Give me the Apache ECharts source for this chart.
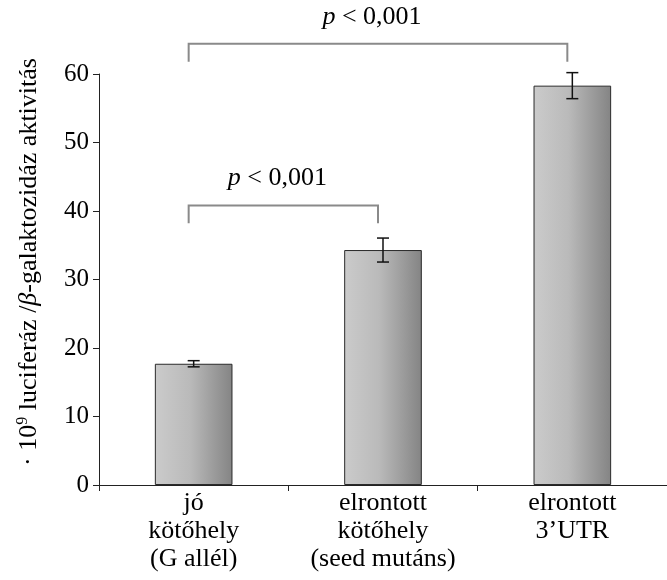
<!DOCTYPE html>
<html>
<head>
<meta charset="utf-8">
<script src="https://cdn.jsdelivr.net/npm/echarts@6/dist/echarts.min.js"></script>
<style>
html,body{margin:0;padding:0;background:#fff;}
#c{width:667px;height:580px;}
</style>
</head>
<body>
<div id="c"></div>
<script>
var categories = ['jó\nkötőhely\n(G allél)', 'elrontott\nkötőhely\n(seed mutáns)', 'elrontott\n3’UTR'];
var means = [17.7, 34.3, 58.3];
var errors = [0.45, 1.75, 1.9];
var yTicks = [0, 10, 20, 30, 40, 50, 60];
var bracketFrom = [0, 0];
var bracketTo = [1, 2];
var bracketTop = [40.8, 64.4];
var bracketLeg = [38.2, 61.8];
var bracketText = ['p < 0,001', 'p < 0,001'];

var FONT = '"Liberation Serif", "Times New Roman", serif';
var chart = echarts.init(document.getElementById('c'), null, {renderer: 'canvas'});

var errData = means.map(function (m, i) { return [i, m, errors[i]]; });
var brData = bracketFrom.map(function (f, i) { return [f, bracketTo[i], bracketTop[i], bracketLeg[i], i]; });

var option = {
  animation: false,
  backgroundColor: '#fff',
  grid: {left: 99, top: 74, width: 576, height: 411, containLabel: false},
  xAxis: {
    type: 'category',
    data: categories,
    axisLine: {lineStyle: {color: '#222', width: 1}},
    axisTick: {show: true, alignWithLabel: false, length: 6, lineStyle: {color: '#222'}},
    axisLabel: {color: '#000', fontFamily: FONT, fontSize: 26, lineHeight: 28, margin: 4, interval: 0}
  },
  yAxis: {
    type: 'value',
    min: 0, max: 60, interval: 10,
    axisLine: {show: true, lineStyle: {color: '#222', width: 1}},
    axisTick: {show: true, length: 6, lineStyle: {color: '#222'}},
    splitLine: {show: false},
    axisLabel: {color: '#000', fontFamily: FONT, fontSize: 25, margin: 10,
      formatter: function (v) { return yTicks.indexOf(v) >= 0 ? String(v) : ''; }}
  },
  graphic: [{
    type: 'text',
    x: 29, y: 262,
    rotation: Math.PI / 2,
    style: {
      text: '{n|· 10}{s|9}{n| luciferáz /}{i|β}{n|-galaktozidáz aktivitás}',
      align: 'center', verticalAlign: 'middle',
      fill: '#000',
      rich: {
        n: {fontFamily: FONT, fontSize: 26, fill: '#000'},
        s: {fontFamily: FONT, fontSize: 16, fill: '#000', verticalAlign: 'top', padding: [0, 0, 12, 0]},
        i: {fontFamily: FONT, fontSize: 26, fontStyle: 'italic', fill: '#000'}
      }
    }
  }],
  series: [{
    type: 'bar',
    data: means,
    barWidth: '41%',
    itemStyle: {
      borderColor: '#2a2a2a', borderWidth: 1,
      color: new echarts.graphic.LinearGradient(0, 0, 1, 0, [
        {offset: 0, color: '#cbcbcb'},
        {offset: 0.45, color: '#bababa'},
        {offset: 1, color: '#848484'}
      ])
    },
    z: 2
  }, {
    type: 'custom',
    data: errData,
    clip: false,
    z: 5,
    renderItem: function (params, api) {
      var i = api.value(0), m = api.value(1), e = api.value(2);
      var top = api.coord([i, m + e]);
      var bot = api.coord([i, m - e]);
      var hw = 6;
      var st = {stroke: '#111', lineWidth: 1.5};
      return {type: 'group', children: [
        {type: 'line', shape: {x1: top[0], y1: top[1], x2: bot[0], y2: bot[1]}, style: st},
        {type: 'line', shape: {x1: top[0] - hw, y1: top[1], x2: top[0] + hw, y2: top[1]}, style: st},
        {type: 'line', shape: {x1: bot[0] - hw, y1: bot[1], x2: bot[0] + hw, y2: bot[1]}, style: st}
      ]};
    }
  }, {
    type: 'custom',
    data: brData,
    clip: false,
    z: 5,
    renderItem: function (params, api) {
      var f = api.value(0), t = api.value(1), yt = api.value(2), yl = api.value(3), k = api.value(4);
      var off = -5;
      var a = api.coord([f, yt]), b = api.coord([t, yt]);
      var al = api.coord([f, yl]), bl = api.coord([t, yl]);
      var x1 = a[0] + off, x2 = b[0] + off;
      var st = {stroke: '#8a8a8a', lineWidth: 2, fill: null};
      var mid = (x1 + x2) / 2;
      return {type: 'group', children: [
        {type: 'polyline', shape: {points: [[x1, al[1]], [x1, a[1]], [x2, a[1]], [x2, bl[1]]]}, style: st},
        {type: 'text', x: mid - 6, y: a[1] - 27, style: {
          text: '{i|p}{n| < 0,001}', align: 'center', verticalAlign: 'middle',
          rich: {
            i: {fontFamily: FONT, fontSize: 26, fontStyle: 'italic', fill: '#000'},
            n: {fontFamily: FONT, fontSize: 26, fill: '#000'}
          }
        }}
      ]};
    }
  }]
};
chart.setOption(option);
</script>
</body>
</html>
